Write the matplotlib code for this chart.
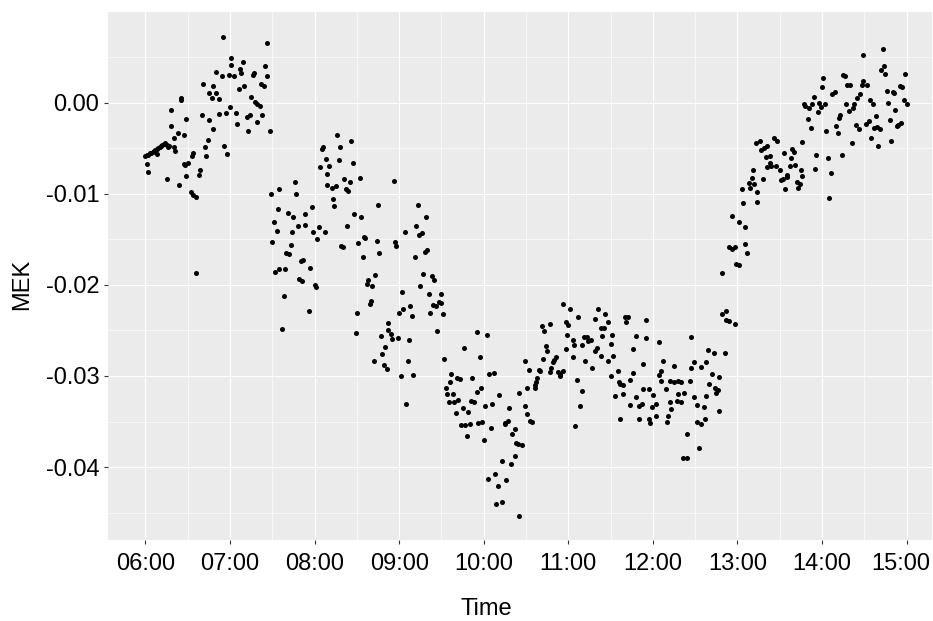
import matplotlib
matplotlib.use("Agg")
import matplotlib.pyplot as plt
import matplotlib.transforms as mtransforms
from matplotlib.ticker import FixedLocator

# MEK readings, minutes after 06:00, grouped by hour
min_06 = [0, 1, 2, 1, 2, 3, 4, 5, 6, 7, 8, 8, 9, 10, 11, 12, 13, 14, 15, 16, 17, 15,
          18, 18, 20, 20, 21, 23, 24, 25, 25, 27, 27, 28, 29, 29, 30, 32, 33, 34, 34,
          36, 36, 38, 39, 40, 41, 42, 43, 44, 45, 45, 47, 48, 48, 50, 50, 52, 52, 54,
          55, 56, 57, 58, 59]
mek_06 = [-0.0058, -0.0067, -0.0076, -0.0057, -0.0057, -0.0055, -0.0055, -0.0054,
          -0.0053, -0.0052, -0.0051, -0.0056, -0.0050, -0.0049, -0.0048, -0.0046,
          -0.0045, -0.0044, -0.0046, -0.0049, -0.0048, -0.0084, -0.0008, -0.0026,
          -0.0039, -0.0049, -0.0053, -0.0033, -0.0090, 0.0005, 0.0003, -0.0036,
          -0.0067, -0.0068, -0.0018, -0.0080, -0.0066, -0.0098, -0.0058, -0.0055,
          -0.0101, -0.0103, -0.0187, -0.0079, -0.0074, -0.0013, 0.0021, -0.0049,
          -0.0059, -0.0041, 0.0011, -0.0019, 0.0005, 0.0018, -0.0029, 0.0034, 0.0011,
          -0.0012, 0.0004, 0.0029, 0.0072, -0.0048, -0.0011, -0.0056, 0.0030]

min_07 = [60, 61, 61, 63, 64, 65, 66, 67, 68, 69, 70, 72, 74, 73, 75, 76, 77, 78, 79,
          79, 81, 82, 83, 84, 85, 86, 86, 88, 89, 90, 91, 92, 93, 94, 95, 95, 97, 98,
          99, 100, 101, 102, 103, 104, 105, 106, 107, 108, 109, 110, 111, 112, 113,
          113, 116, 117, 118, 119]
mek_07 = [-0.0005, 0.0041, 0.0049, 0.0029, -0.0011, -0.0023, 0.0015, 0.0037, 0.0033,
          0.0045, 0.0018, -0.0016, -0.0014, -0.0031, 0.0006, 0.0030, 0.0033, 0.0001,
          -0.0001, -0.0021, -0.0004, 0.0020, -0.0014, 0.0018, 0.0040, 0.0029, 0.0065,
          -0.0031, -0.0100, -0.0153, -0.0131, -0.0186, -0.0141, -0.0117, -0.0095,
          -0.0183, -0.0248, -0.0212, -0.0183, -0.0165, -0.0121, -0.0166, -0.0156,
          -0.0142, -0.0126, -0.0087, -0.0100, -0.0135, -0.0194, -0.0174, -0.0196,
          -0.0173, -0.0122, -0.0134, -0.0229, -0.0182, -0.0114, -0.0142]

min_08 = [120, 121, 122, 123, 124, 125, 126, 127, 128, 129, 129, 130, 132, 133, 134,
          135, 136, 137, 138, 139, 140, 141, 142, 143, 144, 145, 146, 147, 148, 149,
          150, 151, 152, 153, 154, 155, 156, 157, 158, 159, 160, 161, 162, 163, 164,
          165, 166, 167, 168, 169, 170, 171, 172, 172, 174, 175, 176, 177, 178, 179]
mek_08 = [-0.0200, -0.0202, -0.0150, -0.0136, -0.0071, -0.0051, -0.0049, -0.0142,
          -0.0062, -0.0090, -0.0078, -0.0069, -0.0094, -0.0106, -0.0113, -0.0092,
          -0.0035, -0.0063, -0.0049, -0.0157, -0.0158, -0.0084, -0.0095, -0.0135,
          -0.0097, -0.0087, -0.0042, -0.0066, -0.0122, -0.0253, -0.0231, -0.0154,
          -0.0083, -0.0126, -0.0169, -0.0147, -0.0149, -0.0199, -0.0195, -0.0221,
          -0.0218, -0.0201, -0.0283, -0.0189, -0.0152, -0.0112, -0.0165, -0.0256,
          -0.0276, -0.0288, -0.0268, -0.0292, -0.0242, -0.0249, -0.0254, -0.0259,
          -0.0086, -0.0153, -0.0157, -0.0258]

min_09 = [180, 181, 182, 183, 184, 185, 186, 187, 188, 189, 190, 191, 192, 193, 194,
          195, 196, 197, 198, 199, 200, 201, 202, 203, 204, 205, 206, 207, 208, 210,
          210, 211, 212, 213, 214, 215, 216, 217, 218, 219, 220, 221, 222, 223, 224,
          225, 226, 227, 228, 229, 230, 231, 232, 233, 235, 235, 236, 237, 238, 239]
mek_09 = [-0.0231, -0.0300, -0.0208, -0.0227, -0.0142, -0.0331, -0.0284, -0.0261,
          -0.0223, -0.0234, -0.0299, -0.0169, -0.0135, -0.0112, -0.0145, -0.0201,
          -0.0143, -0.0188, -0.0164, -0.0125, -0.0162, -0.0210, -0.0231, -0.0190,
          -0.0222, -0.0195, -0.0223, -0.0251, -0.0219, -0.0220, -0.0210, -0.0232,
          -0.0281, -0.0313, -0.0320, -0.0329, -0.0307, -0.0298, -0.0320, -0.0328,
          -0.0341, -0.0302, -0.0326, -0.0303, -0.0354, -0.0335, -0.0269, -0.0354,
          -0.0366, -0.0340, -0.0353, -0.0327, -0.0302, -0.0328, -0.0252, -0.0318,
          -0.0352, -0.0279, -0.0313, -0.0351]

min_10 = [240, 241, 242, 243, 244, 245, 246, 247, 248, 249, 250, 251, 253, 253, 255,
          255, 257, 256, 258, 259, 260, 262, 262, 263, 264, 265, 265, 267, 269, 269,
          271, 271, 272, 273, 274, 276, 276, 277, 278, 279, 280, 281, 282, 283, 284,
          285, 287, 287, 288, 289, 290, 291, 293, 294, 294, 296, 296, 298, 298, 299]
mek_10 = [-0.0370, -0.0333, -0.0255, -0.0413, -0.0298, -0.0357, -0.0331, -0.0297,
          -0.0408, -0.0441, -0.0421, -0.0321, -0.0393, -0.0438, -0.0352, -0.0353,
          -0.0349, -0.0414, -0.0335, -0.0397, -0.0364, -0.0388, -0.0358, -0.0373,
          -0.0375, -0.0319, -0.0454, -0.0376, -0.0333, -0.0283, -0.0342, -0.0313,
          -0.0293, -0.0349, -0.0351, -0.0313, -0.0310, -0.0307, -0.0302, -0.0293,
          -0.0295, -0.0245, -0.0281, -0.0251, -0.0267, -0.0273, -0.0296, -0.0243,
          -0.0291, -0.0285, -0.0282, -0.0279, -0.0296, -0.0298, -0.0300, -0.0294,
          -0.0221, -0.0241, -0.0270, -0.0255]

min_11 = [300, 301, 303, 303, 304, 305, 306, 307, 308, 310, 310, 311, 312, 313, 314,
          316, 317, 319, 319, 320, 321, 323, 323, 324, 325, 326, 328, 328, 330, 330,
          331, 332, 333, 335, 336, 337, 337, 339, 339, 340, 341, 342, 344, 344, 346,
          346, 348, 348, 350, 350, 352, 353, 353, 355, 355, 357, 357, 358, 359]
mek_11 = [-0.0244, -0.0227, -0.0260, -0.0279, -0.0266, -0.0355, -0.0304, -0.0235,
          -0.0333, -0.0266, -0.0317, -0.0257, -0.0283, -0.0257, -0.0262, -0.0261,
          -0.0291, -0.0237, -0.0273, -0.0269, -0.0226, -0.0247, -0.0278, -0.0256,
          -0.0247, -0.0232, -0.0241, -0.0283, -0.0300, -0.0265, -0.0255, -0.0278,
          -0.0322, -0.0295, -0.0307, -0.0309, -0.0347, -0.0310, -0.0320, -0.0235,
          -0.0241, -0.0235, -0.0304, -0.0332, -0.0297, -0.0270, -0.0256, -0.0323,
          -0.0333, -0.0347, -0.0331, -0.0314, -0.0287, -0.0238, -0.0258, -0.0314,
          -0.0347, -0.0352, -0.0334]

min_12 = [360, 362, 362, 364, 364, 366, 366, 367, 369, 370, 371, 372, 372, 373, 375,
          375, 377, 378, 378, 380, 380, 381, 382, 384, 384, 386, 387, 387, 389, 389,
          391, 391, 393, 394, 394, 396, 397, 398, 398, 399, 400, 402, 403, 404, 405,
          406, 407, 407, 409, 409, 411, 412, 412, 414, 414, 416, 416, 418, 418, 419]
mek_12 = [-0.0321, -0.0331, -0.0344, -0.0263, -0.0299, -0.0294, -0.0305, -0.0283,
          -0.0314, -0.0351, -0.0344, -0.0306, -0.0329, -0.0336, -0.0307, -0.0289,
          -0.0327, -0.0306, -0.0320, -0.0307, -0.0328, -0.0390, -0.0319, -0.0390,
          -0.0364, -0.0305, -0.0257, -0.0291, -0.0285, -0.0323, -0.0332, -0.0351,
          -0.0379, -0.0353, -0.0290, -0.0334, -0.0347, -0.0285, -0.0322, -0.0272,
          -0.0309, -0.0298, -0.0275, -0.0313, -0.0319, -0.0315, -0.0301, -0.0338,
          -0.0187, -0.0232, -0.0275, -0.0239, -0.0229, -0.0158, -0.0240, -0.0161,
          -0.0124, -0.0158, -0.0243, -0.0177]

min_13 = [421, 421, 423, 424, 425, 425, 427, 428, 429, 430, 431, 432, 433, 434, 434,
          436, 437, 438, 439, 440, 441, 441, 443, 443, 444, 446, 447, 448, 450, 451,
          452, 453, 454, 455, 455, 457, 458, 459, 460, 461, 462, 463, 464, 465, 466,
          466, 467, 468, 470, 471, 472, 473, 474, 475, 476, 477, 478, 479]
mek_13 = [-0.0178, -0.0131, -0.0095, -0.0110, -0.0155, -0.0136, -0.0165, -0.0088,
          -0.0094, -0.0083, -0.0074, -0.0089, -0.0044, -0.0109, -0.0098, -0.0042,
          -0.0052, -0.0084, -0.0050, -0.0060, -0.0048, -0.0071, -0.0066, -0.0058,
          -0.0070, -0.0039, -0.0070, -0.0042, -0.0074, -0.0085, -0.0084, -0.0055,
          -0.0095, -0.0082, -0.0079, -0.0070, -0.0061, -0.0051, -0.0054, -0.0068,
          -0.0087, -0.0094, -0.0089, -0.0074, -0.0043, -0.0080, -0.0002, -0.0004,
          -0.0018, -0.0006, -0.0028, -0.0001, 0.0006, -0.0073, -0.0057, -0.0010,
          0.0000, -0.0005]

min_14 = [480, 481, 482, 483, 484, 485, 486, 487, 489, 490, 491, 492, 493, 494, 495,
          496, 497, 498, 499, 500, 501, 502, 503, 504, 505, 506, 507, 508, 509, 509,
          511, 512, 513, 514, 515, 516, 517, 518, 519, 520, 521, 522, 523, 524, 525,
          526, 527, 528, 529, 530, 531, 532, 533, 534, 535, 536, 537, 538, 539, 540]
mek_14 = [0.0017, 0.0027, -0.0001, -0.0031, -0.0061, -0.0105, -0.0077, 0.0010, 0.0012,
          -0.0026, -0.0033, -0.0017, -0.0014, -0.0057, 0.0030, 0.0029, -0.0002, 0.0019,
          -0.0009, 0.0019, -0.0044, -0.0006, -0.0002, -0.0025, 0.0005, -0.0029, 0.0010,
          0.0019, 0.0024, 0.0052, -0.0023, 0.0019, -0.0020, 0.0003, -0.0039, -0.0002,
          -0.0028, -0.0015, -0.0027, -0.0048, -0.0029, 0.0036, 0.0059, 0.0040, 0.0032,
          0.0013, 0.0000, -0.0019, -0.0042, 0.0012, 0.0011, -0.0008, -0.0026, -0.0024,
          0.0018, -0.0022, 0.0017, 0.0003, 0.0032, -0.0001]

hour_ticks = [0, 60, 120, 180, 240, 300, 360, 420, 480, 540]
hour_labels = ["06:00", "07:00", "08:00", "09:00", "10:00", "11:00", "12:00",
               "13:00", "14:00", "15:00"]
mek_ticks = [0.00, -0.01, -0.02, -0.03, -0.04]
mek_labels = ["0.00", "-0.01", "-0.02", "-0.03", "-0.04"]

minutes = min_06 + min_07 + min_08 + min_09 + min_10 + min_11 + min_12 + min_13 + min_14
mek = mek_06 + mek_07 + mek_08 + mek_09 + mek_10 + mek_11 + mek_12 + mek_13 + mek_14

plt.rcParams["font.family"] = ["Liberation Sans", "DejaVu Sans"]

W, H = 933, 621
fig = plt.figure(figsize=(W / 100, H / 100), dpi=100)
fig.patch.set_facecolor("white")
ax = fig.add_axes([108 / W, 1 - 540 / H, 824 / W, 528 / H])
ax.set_facecolor("#EBEBEB")
for s in ax.spines.values():
    s.set_visible(False)

ax.scatter(minutes, mek, s=13, color="black", linewidths=0, zorder=3)

ax.set_xlim(-26.6, 558.0)
ax.set_ylim(-0.0480, 0.00995)

ax.xaxis.set_major_locator(FixedLocator(hour_ticks))
ax.set_xticklabels(hour_labels)
ax.xaxis.set_minor_locator(FixedLocator([t + 30 for t in [-60] + hour_ticks]))
ax.yaxis.set_major_locator(FixedLocator(mek_ticks))
ax.set_yticklabels(mek_labels)
ax.yaxis.set_minor_locator(FixedLocator([0.005, -0.005, -0.015, -0.025, -0.035, -0.045]))

ax.grid(which="major", color="white", linewidth=0.85)
ax.grid(which="minor", color="white", linewidth=0.45)
ax.set_axisbelow(True)

ax.tick_params(which="major", length=3.2, width=0.8, color="#333333",
               labelsize=17, labelcolor="black", pad=3)
ax.tick_params(axis="x", which="major", pad=6)
ax.tick_params(which="minor", length=0)

# keep the rightmost hour label inside the canvas
last = ax.get_xticklabels()[-1]
last.set_transform(last.get_transform()
                   + mtransforms.ScaledTranslation(-6 / 100, 0, fig.dpi_scale_trans))

fig.text(486 / W, 1 - 609 / H, "Time", ha="center", va="center", fontsize=17)
fig.text(22 / W, 1 - 284 / H, "MEK", ha="center", va="center", fontsize=17,
         rotation=90)

fig.savefig("out.png", dpi=100)
